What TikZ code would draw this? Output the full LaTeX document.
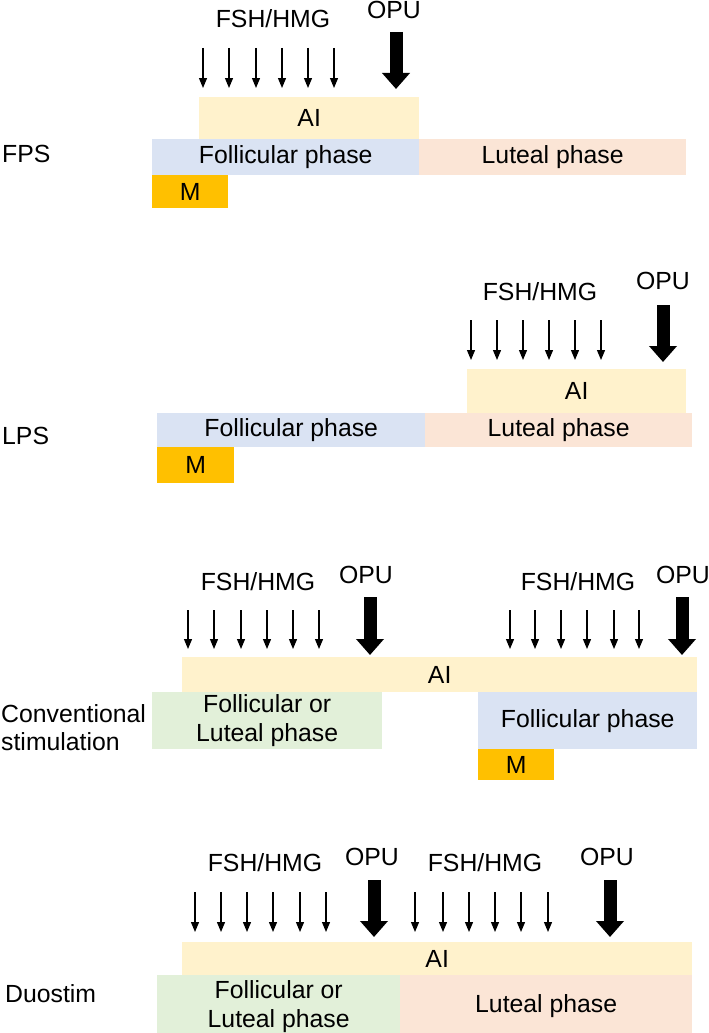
\documentclass[tikz,border=0pt]{standalone}
\usepackage{fontspec}
\setmainfont{Liberation Sans}
\usetikzlibrary{arrows.meta}

\definecolor{aiyellow}{HTML}{FFF2CC}
\definecolor{folblue}{HTML}{DAE3F3}
\definecolor{lutpink}{HTML}{FBE5D6}
\definecolor{eithergreen}{HTML}{E2F0D9}
\definecolor{mgold}{HTML}{FFC000}

\tikzset{
  bar/.style={draw=none, inner sep=0pt, anchor=north west, align=center,
    font=\fontsize{24.8}{29}\selectfont},
  lbl/.style={inner sep=0pt, font=\fontsize{24.8}{28}\selectfont},
  drug/.style={line width=1.2pt, -{Triangle[length=10pt,width=8pt]}},
  opu/.style={line width=13pt, -{Triangle[length=16pt,width=27pt]}}
}

\begin{document}
\begin{tikzpicture}[x=1pt, y=-1pt]
	\useasboundingbox (0,0) rectangle (709,1033);

	% FPS
	\node[lbl] (fpsFsh) at (273,19) {FSH/HMG};
	\node[lbl, anchor=north] (fpsOpuT) at (394,1) {OPU};
	\foreach \x [count=\i] in {203,229,256,282,308,334} {
		\coordinate (fpsS\i) at (\x,48);
		\coordinate (fpsE\i) at (\x,88);
		\draw[drug] (fpsS\i) -- (fpsE\i);
	}
	\coordinate (fpsO1) at (396,32);
	\coordinate (fpsO2) at (396,89);
	\draw[opu] (fpsO1) -- (fpsO2);
	\node[bar, fill=aiyellow, minimum width=220pt, minimum height=42pt] (fpsAI) at (199,97) {AI};
	\node[bar, fill=folblue, minimum width=267pt, minimum height=36pt] (fpsFol) at (152,139) {Follicular phase};
	\node[bar, fill=lutpink, minimum width=267pt, minimum height=36pt] (fpsLut) at (419,139) {Luteal phase};
	\node[bar, fill=mgold, minimum width=76pt, minimum height=33pt] (fpsM) at (152,175) {M};
	\node[lbl, anchor=west] (fpsName) at (2,154) {FPS};

	% LPS
	\node[lbl] (lpsFsh) at (540,292) {FSH/HMG};
	\node[lbl] (lpsOpuT) at (663,281) {OPU};
	\foreach \x [count=\i] in {471,497,523,549,575,601} {
		\coordinate (lpsS\i) at (\x,320);
		\coordinate (lpsE\i) at (\x,360);
		\draw[drug] (lpsS\i) -- (lpsE\i);
	}
	\coordinate (lpsO1) at (663,305);
	\coordinate (lpsO2) at (663,362);
	\draw[opu] (lpsO1) -- (lpsO2);
	\node[bar, fill=aiyellow, minimum width=219pt, minimum height=44pt] (lpsAI) at (467,369) {AI};
	\node[bar, fill=folblue, minimum width=268pt, minimum height=34pt] (lpsFol) at (157,413) {Follicular phase};
	\node[bar, fill=lutpink, minimum width=267pt, minimum height=34pt] (lpsLut) at (425,413) {Luteal phase};
	\node[bar, fill=mgold, minimum width=77pt, minimum height=36pt] (lpsM) at (157,447) {M};
	\node[lbl, anchor=west] (lpsName) at (2,436) {LPS};

	% Conventional stimulation
	\node[lbl] (conFshA) at (258,582) {FSH/HMG};
	\node[lbl] (conOpuTA) at (366,575) {OPU};
	\node[lbl] (conFshB) at (578,582) {FSH/HMG};
	\node[lbl] (conOpuTB) at (683,575) {OPU};
	\foreach \x [count=\i] in {188,214,241,267,293,319,510,535,561,587,614,639} {
		\coordinate (conS\i) at (\x,610);
		\coordinate (conE\i) at (\x,649);
		\draw[drug] (conS\i) -- (conE\i);
	}
	\coordinate (conOA1) at (370,597);
	\coordinate (conOA2) at (370,655);
	\draw[opu] (conOA1) -- (conOA2);
	\coordinate (conOB1) at (682,597);
	\coordinate (conOB2) at (682,655);
	\draw[opu] (conOB1) -- (conOB2);
	\node[bar, fill=aiyellow, minimum width=515pt, minimum height=35pt] (conAI) at (182,657) {AI};
	\node[bar, fill=eithergreen, minimum width=230pt, minimum height=57pt] (conEither) at (152,692) {Follicular or\\Luteal phase};
	\node[bar, fill=folblue, minimum width=219pt, minimum height=57pt] (conFol) at (478,692) {Follicular phase};
	\node[bar, fill=mgold, minimum width=76pt, minimum height=31pt] (conM) at (478,749) {M};
	\node[lbl, anchor=west, align=left] (conName) at (1,728) {Conventional\\stimulation};

	% Duostim
	\node[lbl] (duoFshA) at (265,863) {FSH/HMG};
	\node[lbl] (duoOpuTA) at (372,857) {OPU};
	\node[lbl] (duoFshB) at (485,863) {FSH/HMG};
	\node[lbl] (duoOpuTB) at (607,857) {OPU};
	\foreach \x [count=\i] in {195,221,247,273,300,326,415,443,469,495,521,548} {
		\coordinate (duoS\i) at (\x,892);
		\coordinate (duoE\i) at (\x,932);
		\draw[drug] (duoS\i) -- (duoE\i);
	}
	\coordinate (duoOA1) at (374,880);
	\coordinate (duoOA2) at (374,937);
	\draw[opu] (duoOA1) -- (duoOA2);
	\coordinate (duoOB1) at (610,880);
	\coordinate (duoOB2) at (610,937);
	\draw[opu] (duoOB1) -- (duoOB2);
	\node[bar, fill=aiyellow, minimum width=510pt, minimum height=33pt] (duoAI) at (182,942) {AI};
	\node[bar, fill=eithergreen, minimum width=243pt, minimum height=62pt] (duoEither) at (157,975) {Follicular or\\Luteal phase};
	\node[bar, fill=lutpink, minimum width=292pt, minimum height=62pt] (duoLut) at (400,975) {Luteal phase};
	\node[lbl, anchor=west] (duoName) at (5,994) {Duostim};
\end{tikzpicture}
\end{document}
